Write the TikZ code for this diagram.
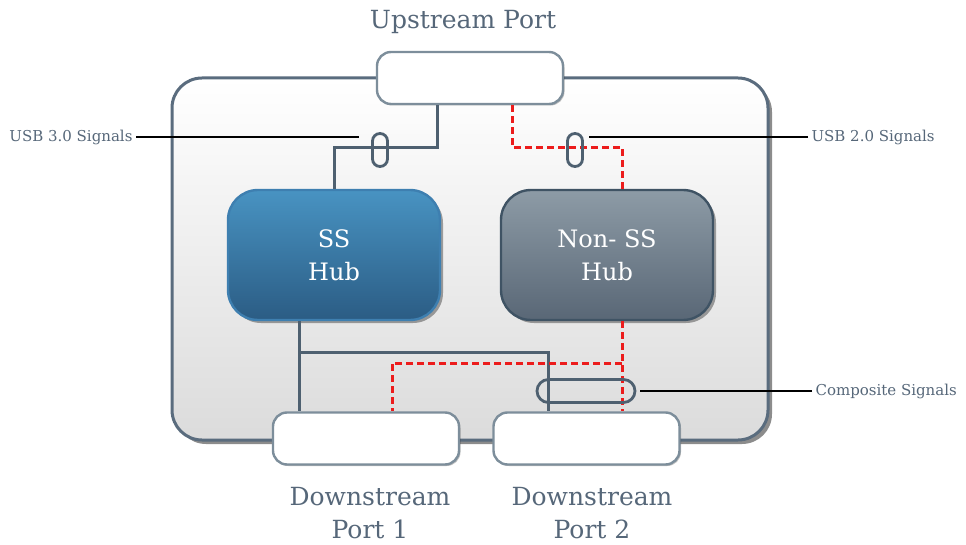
\documentclass[tikz,border=0pt]{standalone}
\usepackage{fontspec}
\setmainfont{DejaVu Serif}
\usetikzlibrary{shadows,calc}

\definecolor{txt}{HTML}{566779}
\definecolor{framec}{HTML}{5A6C7E}
\definecolor{portc}{HTML}{7D8E9B}
\definecolor{wire}{HTML}{4E6070}
\definecolor{sig}{HTML}{EC1C1C}
\definecolor{sstop}{HTML}{4893C2}
\definecolor{ssbot}{HTML}{2B5C84}
\definecolor{ssedge}{HTML}{3E7FB0}
\definecolor{nstop}{HTML}{8D9BA6}
\definecolor{nsbot}{HTML}{596776}
\definecolor{nsedge}{HTML}{3F5364}

\tikzset{
  frame/.style={draw=framec, line width=3pt, rounded corners=30pt,
    top color=white, bottom color=black!14, inner sep=0pt,
    drop shadow={shadow xshift=4pt, shadow yshift=-4pt, opacity=0.6, fill=black!75}},
  port/.style={draw=portc, line width=2.4pt, rounded corners=14pt, fill=white,
    minimum width=186pt, minimum height=52pt, inner sep=0pt,
    drop shadow={shadow xshift=1.5pt, shadow yshift=-1.5pt, opacity=0.25, fill=black}},
  hub/.style={line width=2.4pt, rounded corners=30pt, minimum width=212pt,
    minimum height=130pt, inner sep=0pt, align=center, text=white,
    font=\fontsize{24}{33}\selectfont,
    drop shadow={shadow xshift=3pt, shadow yshift=-3pt, opacity=0.35, fill=black}},
  sshub/.style={hub, draw=ssedge, top color=sstop, bottom color=ssbot},
  nshub/.style={hub, draw=nsedge, top color=nstop, bottom color=nsbot},
  bus/.style={draw=wire, line width=3pt},
  usb2/.style={draw=sig, line width=3pt, dash pattern=on 7pt off 4pt},
  capsule/.style={draw=wire, line width=2.8pt, inner sep=0pt, fill=none},
  leader/.style={draw=black, line width=2.4pt},
  biglabel/.style={text=txt, align=center, font=\fontsize{25}{33}\selectfont},
  smalllabel/.style={text=txt, font=\fontsize{15}{18}\selectfont},
}

\begin{document}
\begin{tikzpicture}[x=1pt, y=-1pt]
  \useasboundingbox (0,0) rectangle (966,545);

  % hub enclosure
  \node[frame, minimum width=596pt, minimum height=362pt] (frame) at (470,259) {};

  % ports
  \node[port] (up)  at (470,78)    {};
  \node[port] (dp1) at (366,438.5) {};
  \node[port] (dp2) at (586.5,438.5) {};

  % hubs
  \node[sshub] (ss)  at (334,255) {SS\\Hub};
  \node[nshub] (nss) at (607,255) {Non- SS\\Hub};

  % SuperSpeed wiring
  \coordinate (u3) at ([xshift=-33pt]up.south);
  \draw[bus] (u3) -- ++(0,42) -| (ss.north);
  \coordinate (d3) at ([xshift=-35pt]ss.south);
  \draw[bus] (d3) -- (d3 |- dp1.north);
  \coordinate (j3) at ($(d3)+(0,31)$);
  \coordinate (p3) at ([xshift=-38pt]dp2.north);
  \draw[bus] (j3) -| (p3);

  % USB 2.0 wiring
  \coordinate (u2) at ([xshift=42pt]up.south);
  \coordinate (n2) at ([xshift=15pt]nss.north);
  \draw[usb2] (u2) -- ++(0,42) -| (n2);
  \coordinate (d2) at ([xshift=15pt]nss.south);
  \draw[usb2] (d2) -- (d2 |- dp2.north);
  \coordinate (j2) at ($(d2)+(0,42)$);
  \coordinate (p2) at ([xshift=26pt]dp1.north);
  \draw[usb2] (j2) -| (p2);

  % signal group markers
  \node[capsule, minimum width=15pt, minimum height=33pt, rounded corners=7.5pt] (c3) at (380,150) {};
  \node[capsule, minimum width=15pt, minimum height=33pt, rounded corners=7.5pt] (c2) at (575,150) {};
  \node[capsule, minimum width=98pt, minimum height=23pt, rounded corners=11.5pt] (cc) at (586,391) {};

  % labels
  \node[biglabel] (lup) at (463,22) {Upstream Port};
  \node[biglabel] (ld1) at (370,513) {Downstream\\Port 1};
  \node[biglabel] (ld2) at (592,513) {Downstream\\Port 2};

  \node[smalllabel, anchor=east] (l3) at (136,137) {USB 3.0 Signals};
  \node[smalllabel, anchor=west] (l2) at (808,137) {USB 2.0 Signals};
  \node[smalllabel, anchor=west] (lc) at (812,391) {Composite Signals};

  % leader lines
  \coordinate (t3) at (359,137);
  \coordinate (t2) at (589,137);
  \coordinate (tc) at (640,391);
  \draw[leader] (l3.east) -- (t3);
  \draw[leader] (l2.west) -- (t2);
  \draw[leader] (lc.west) -- (tc);
\end{tikzpicture}
\end{document}
